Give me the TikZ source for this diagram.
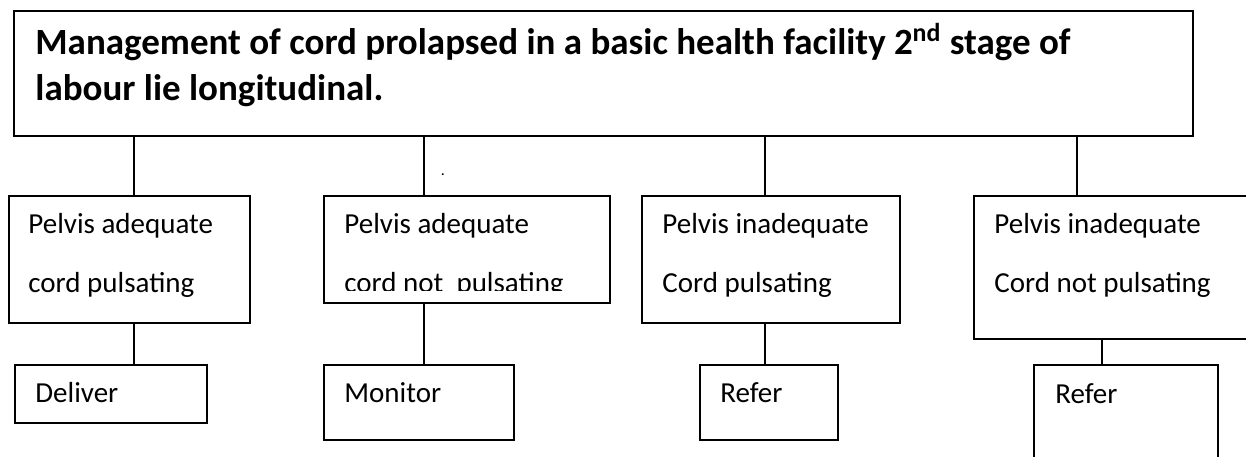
\documentclass[tikz,border=0pt]{standalone}
\usepackage{fontspec}
\setmainfont{Carlito}
\usepackage{tikz}

\begin{document}
\begin{tikzpicture}[x=0.5pt, y=-0.5pt,
    box/.style={draw, line width=0.9pt, inner sep=0pt, anchor=north west},
    txt/.style={anchor=base west, inner sep=0pt, align=left, font=\fontsize{14.5}{29.5}\selectfont},
    head/.style={anchor=base west, inner sep=0pt, align=left, font=\fontsize{18.5}{23}\selectfont\bfseries},
    conn/.style={line width=0.9pt}]
    \path[use as bounding box, clip] (0,0) rectangle (1246,456);

    \node[box, minimum width=589.5pt, minimum height=62.5pt] (title) at (13,10) {};
    \node[head] (titletxt) at (35,100) {Management of cord prolapsed in a basic health facility 2\textsuperscript{nd} stage of\\labour lie longitudinal.};

    \node[box, minimum width=120.5pt, minimum height=63.5pt] (ade1) at (8,195) {};
    \node[box, minimum width=143pt, minimum height=53.5pt] (ade2) at (323,195) {};
    \node[box, minimum width=129pt, minimum height=63.5pt] (inade1) at (641,195) {};
    \node[box, minimum width=144.5pt, minimum height=71.5pt] (inade2) at (973,195) {};

    \node[txt] (ade1txt) at (28,292) {Pelvis adequate\\cord pulsating};
    \begin{scope}
    \clip (323,195) rectangle (609,290);
    \node[txt] (ade2txt) at (344,292) {Pelvis adequate\\cord not\ \ pulsating};
    \end{scope}
    \node[txt] (inade1txt) at (662,292) {Pelvis inadequate\\Cord pulsating};
    \node[txt] (inade2txt) at (994,292) {Pelvis inadequate\\Cord not pulsating};

    \node[box, minimum width=96pt, minimum height=29pt] (deliver) at (14,364) {};
    \node[box, minimum width=95pt, minimum height=37.5pt] (monitor) at (323,364) {};
    \node[box, minimum width=69pt, minimum height=37.5pt] (refer1) at (699,364) {};
    \node[box, minimum width=92pt, minimum height=58pt] (refer2) at (1033,364) {};

    \node[txt] (delivertxt) at (35,402) {Deliver};
    \node[txt] (monitortxt) at (344,402) {Monitor};
    \node[txt] (refer1txt) at (720,402) {Refer};
    \node[txt] (refer2txt) at (1055,403) {Refer};

    \node[anchor=base, inner sep=0pt, font=\fontsize{8}{8}\selectfont] (dot) at (443,175) {.};

    \coordinate (c1) at (134,0);
    \coordinate (c2) at (424,0);
    \coordinate (c3) at (765,0);
    \coordinate (c4) at (1077,0);
    \coordinate (c5) at (1102,0);

    \draw[conn] (c1 |- title.south) -- (c1 |- ade1.north);
    \draw[conn] (c2 |- title.south) -- (c2 |- ade2.north);
    \draw[conn] (c3 |- title.south) -- (c3 |- inade1.north);
    \draw[conn] (c4 |- title.south) -- (c4 |- inade2.north);

    \draw[conn] (c1 |- ade1.south) -- (c1 |- deliver.north);
    \draw[conn] (c2 |- ade2.south) -- (c2 |- monitor.north);
    \draw[conn] (c3 |- inade1.south) -- (c3 |- refer1.north);
    \draw[conn] (c5 |- inade2.south) -- (c5 |- refer2.north);
\end{tikzpicture}
\end{document}
